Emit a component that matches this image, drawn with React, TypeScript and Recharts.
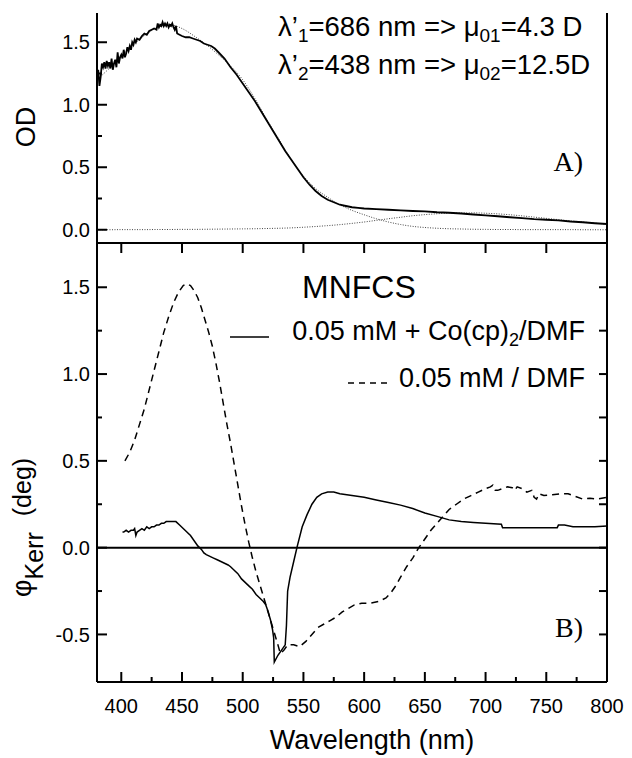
import { LineChart, Line, XAxis, YAxis, ReferenceLine, Legend } from "recharts";

const FONT = '"Liberation Sans", Arial, sans-serif';
const SERIF = '"Liberation Serif", "Times New Roman", serif';

// A) absorption spectrum and the two fitted bands
const odWavelength = [
  380, 381, 382, 383, 384, 385, 386, 387, 388, 389, 390, 391, 392, 393, 394, 395, 396, 397, 398, 399,
  400, 401, 402, 403, 404, 405, 406, 407, 408, 409, 410, 411, 412, 413, 415, 417, 419, 421, 423, 425,
  427, 429, 430, 431, 432, 433, 434, 435, 436, 437, 438, 439, 440, 441, 442, 443, 444, 445, 446, 448,
  450, 453, 456, 459, 462, 465, 468, 471, 474, 477, 480, 485, 490, 495, 500, 505, 510, 515, 520, 525,
  530, 535, 540, 545, 550, 555, 560, 565, 570, 575, 580, 585, 590, 595, 600, 610, 620, 630, 640, 650,
  660, 670, 680, 690, 700, 710, 720, 730, 740, 750, 760, 770, 780, 790, 800,
];
const odMeasured = [
  1.21, 1.28, 1.15, 1.22, 1.33, 1.3, 1.34, 1.29, 1.35, 1.31, 1.34, 1.29, 1.37, 1.28, 1.33, 1.36, 1.3, 1.42, 1.33, 1.38,
  1.4, 1.37, 1.44, 1.38, 1.41, 1.46, 1.43, 1.47, 1.44, 1.5, 1.48, 1.52, 1.5, 1.53, 1.52, 1.55, 1.57, 1.56, 1.59, 1.6,
  1.61, 1.6, 1.65, 1.62, 1.64, 1.63, 1.66, 1.63, 1.65, 1.63, 1.65, 1.62, 1.64, 1.63, 1.65, 1.62, 1.6, 1.63, 1.57, 1.56,
  1.55, 1.54, 1.54, 1.53, 1.52, 1.51, 1.49, 1.48, 1.47, 1.45, 1.42, 1.37, 1.3, 1.24, 1.17, 1.1, 1.03, 0.95, 0.87, 0.79,
  0.71, 0.63, 0.56, 0.49, 0.42, 0.36, 0.31, 0.27, 0.24, 0.22, 0.2, 0.19, 0.18, 0.175, 0.17, 0.165, 0.16, 0.155, 0.15, 0.147,
  0.14, 0.136, 0.13, 0.122, 0.115, 0.108, 0.1, 0.093, 0.085, 0.08, 0.075, 0.066, 0.06, 0.052, 0.046,
];
const fitWavelength = [
  380, 390, 400, 410, 420, 430, 440, 450, 460, 470, 480, 490, 500, 510, 520, 530, 540, 550, 560, 570, 580, 590,
  600, 610, 620, 630, 640, 650, 660, 670, 680, 690, 700, 710, 720, 730, 740, 750, 760, 770, 780, 790, 800,
];
const fitBand438 = [
  1.2, 1.29, 1.39, 1.48, 1.56, 1.62, 1.64, 1.61, 1.55, 1.48, 1.4, 1.31, 1.2, 1.05, 0.88, 0.72, 0.56, 0.43, 0.33, 0.26, 0.2, 0.155,
  0.12, 0.088, 0.062, 0.042, 0.027, 0.018, 0.012, 0.008, 0.006, 0.004, 0.003, 0.002, 0.002, 0.001, 0.001, 0.001, 0.001, 0.001, 0, 0, 0,
];
const fitBand686 = [
  0, 0, 0.001, 0.001, 0.001, 0.002, 0.002, 0.003, 0.003, 0.004, 0.005, 0.006, 0.007, 0.008, 0.01, 0.012, 0.015, 0.02, 0.026, 0.033, 0.041, 0.051,
  0.062, 0.075, 0.088, 0.1, 0.112, 0.121, 0.128, 0.133, 0.135, 0.135, 0.132, 0.127, 0.12, 0.111, 0.101, 0.091, 0.081, 0.071, 0.062, 0.053, 0.045,
];
const odTicks = [0, 0.25, 0.5, 0.75, 1, 1.25, 1.5];

// B) Kerr rotation, MNFCS
const coWavelength = [
  401, 402, 404, 406, 408, 410, 411, 412, 413, 415, 417, 419, 421, 423, 425, 427, 429, 431, 433, 435,
  437, 440, 443, 445, 448, 451, 454, 457, 460, 463, 466, 468, 470, 473, 476, 479, 482, 485, 488, 490,
  493, 496, 499, 502, 505, 508, 511, 514, 517, 519, 521, 523, 524.5, 525.5, 526, 529, 532, 535, 536, 537,
  539, 542, 545, 549, 553, 557, 561, 565, 570, 575, 580, 590, 600, 610, 620, 630, 640, 650, 660, 670,
  680, 690, 700, 713, 714, 740, 759, 760, 765, 772, 780, 790, 800,
];
const coKerr = [
  0.09, 0.09, 0.1, 0.09, 0.1, 0.1, 0.11, 0.07, 0.09, 0.1, 0.11, 0.1, 0.12, 0.11, 0.12, 0.12, 0.13, 0.13, 0.14, 0.14,
  0.15, 0.15, 0.15, 0.15, 0.13, 0.11, 0.09, 0.07, 0.04, 0.01, -0.01, -0.03, -0.04, -0.05, -0.06, -0.07, -0.08, -0.09, -0.1, -0.11,
  -0.13, -0.15, -0.18, -0.2, -0.22, -0.24, -0.27, -0.29, -0.31, -0.33, -0.37, -0.42, -0.47, -0.52, -0.66, -0.62, -0.59, -0.56, -0.45, -0.25,
  -0.17, -0.08, 0.01, 0.12, 0.19, 0.25, 0.29, 0.31, 0.32, 0.32, 0.31, 0.3, 0.29, 0.275, 0.26, 0.245, 0.225, 0.2, 0.18, 0.16,
  0.15, 0.145, 0.14, 0.135, 0.115, 0.115, 0.115, 0.13, 0.13, 0.12, 0.12, 0.12, 0.125,
];
const dmfWavelength = [
  403, 407, 411, 415, 419, 423, 427, 431, 435, 439, 443, 447, 451, 454, 457, 460, 463, 466, 469, 472,
  475, 478, 481, 484, 487, 490, 493, 496, 499, 502, 505, 508, 511, 514, 517, 520, 523, 526, 529, 531,
  534, 537, 542, 547, 552, 557, 562, 567, 572, 577, 582, 587, 592, 598, 605, 612, 618, 622, 626, 630,
  635, 640, 645, 650, 655, 660, 665, 670, 676, 682, 688, 694, 700, 704, 706, 708, 710, 714, 718, 722,
  724, 726, 730, 734, 738, 740, 742, 744, 748, 755, 762, 768, 774, 780, 786, 792, 800,
];
const dmfKerr = [
  0.5, 0.55, 0.62, 0.71, 0.8, 0.91, 1.02, 1.13, 1.24, 1.33, 1.41, 1.47, 1.51, 1.52, 1.51, 1.48, 1.44, 1.38, 1.31, 1.24,
  1.16, 1.06, 0.95, 0.83, 0.71, 0.6, 0.48, 0.36, 0.24, 0.13, 0.03, -0.06, -0.14, -0.21, -0.28, -0.35, -0.42, -0.49, -0.56, -0.61,
  -0.59, -0.56, -0.56, -0.57, -0.54, -0.5, -0.46, -0.44, -0.42, -0.4, -0.37, -0.35, -0.33, -0.32, -0.32, -0.31, -0.29, -0.26, -0.22, -0.17,
  -0.11, -0.06, 0, 0.05, 0.1, 0.14, 0.18, 0.22, 0.25, 0.28, 0.3, 0.32, 0.34, 0.35, 0.36, 0.33, 0.33, 0.34, 0.35, 0.345,
  0.33, 0.35, 0.34, 0.32, 0.33, 0.29, 0.28, 0.31, 0.3, 0.305, 0.31, 0.31, 0.295, 0.28, 0.285, 0.28, 0.29,
];
const kerrTicks = [-0.5, -0.25, 0, 0.25, 0.5, 0.75, 1, 1.25, 1.5];
const wavelengthTicks = [400, 425, 450, 475, 500, 525, 550, 575, 600, 625, 650, 675, 700, 725, 750, 775, 800];

const zip = (xs: number[], ys: number[]) => xs.map((x, i) => ({ x, y: ys[i] }));
const odData = zip(odWavelength, odMeasured);
const band438Data = zip(fitWavelength, fitBand438);
const band686Data = zip(fitWavelength, fitBand686);
const coData = zip(coWavelength, coKerr);
const dmfData = zip(dmfWavelength, dmfKerr);

const PLOT_W = 510;
const B_PLOT_H = 439;

function LeftTick({ x, y, payload, right }: any) {
  const major = Math.abs(payload.value % 0.5) < 1e-9;
  return (
    <g>
      <line x1={x} y1={y} x2={x + (major ? 10 : 5)} y2={y} stroke="#000" strokeWidth={2} />
      {right && <line x1={x + PLOT_W} y1={y} x2={x + PLOT_W - 8} y2={y} stroke="#000" strokeWidth={2} />}
      {major && (
        <text x={x - 7} y={y} dy="0.36em" textAnchor="end" fontSize={20} fontFamily={FONT} fill="#000">
          {payload.value.toFixed(1)}
        </text>
      )}
    </g>
  );
}

function WavelengthTick({ x, y, payload }: any) {
  const major = payload.value % 50 === 0;
  return (
    <g>
      <line x1={x} y1={y} x2={x} y2={y - (major ? 10 : 5)} stroke="#000" strokeWidth={2} />
      {major && <line x1={x} y1={y - B_PLOT_H} x2={x} y2={y - B_PLOT_H + 10} stroke="#000" strokeWidth={2} />}
      {major && (
        <text x={x} y={y + 31} textAnchor="middle" fontSize={20} fontFamily={FONT} fill="#000">
          {payload.value}
        </text>
      )}
    </g>
  );
}

function KerrLegend() {
  return (
    <svg width={632} height={170} style={{ overflow: "visible" }}>
      <text x={302} y={63} fontSize={32} fontFamily={FONT}>MNFCS</text>
      <line x1={230} y1={102} x2={269} y2={102} stroke="#000" strokeWidth={1.5} />
      <text x={585} y={105} textAnchor="end" fontSize={27} fontFamily={FONT}>
        0.05 mM + Co(cp)<tspan fontSize={18} dy={6}>2</tspan>
        <tspan dy={-6}>/DMF</tspan>
      </text>
      <line x1={348} y1={148} x2={388} y2={148} stroke="#000" strokeWidth={1.5} strokeDasharray="6 5" />
      <text x={585} y={152} textAnchor="end" fontSize={27} fontFamily={FONT}>0.05 mM / DMF</text>
    </svg>
  );
}

export default function App() {
  return (
    <div style={{ position: "absolute", left: 0, top: 0, width: 632, height: 758, background: "#fff" }}>
      <div style={{ position: "absolute", left: 0, top: 0 }}>
        <LineChart width={632} height={245} margin={{ top: 13, right: 25, bottom: 2, left: 0 }}>
          <XAxis type="number" dataKey="x" domain={[380, 800]} allowDataOverflow hide />
          <YAxis
            type="number"
            domain={[-0.106, 1.734]}
            allowDataOverflow
            ticks={odTicks}
            interval={0}
            width={97}
            tickSize={0}
            tickMargin={0}
            tickLine={false}
            axisLine={{ stroke: "#000", strokeWidth: 2 }}
            tick={(p: any) => <LeftTick {...p} />}
          />
          <ReferenceLine x={800} stroke="#000" strokeWidth={2} />
          <Line data={band438Data} dataKey="y" type="monotone" stroke="#444" strokeWidth={1} strokeDasharray="1 1.5" dot={false} isAnimationActive={false} />
          <Line data={band686Data} dataKey="y" type="monotone" stroke="#444" strokeWidth={1} strokeDasharray="1 1.5" dot={false} isAnimationActive={false} />
          <Line data={odData} dataKey="y" type="linear" stroke="#000" strokeWidth={1.8} dot={false} isAnimationActive={false} />
          <text x={278} y={36} fontSize={27.5} fontFamily={FONT}>
            λ’<tspan fontSize={19} dy={6}>1</tspan>
            <tspan dy={-6}>=686 nm =&gt; μ</tspan>
            <tspan fontSize={19} dy={6}>01</tspan>
            <tspan dy={-6}>=4.3 D</tspan>
          </text>
          <text x={278} y={74} fontSize={27.5} fontFamily={FONT}>
            λ’<tspan fontSize={19} dy={6}>2</tspan>
            <tspan dy={-6}>=438 nm =&gt; μ</tspan>
            <tspan fontSize={19} dy={6}>02</tspan>
            <tspan dy={-6}>=12.5D</tspan>
          </text>
          <text x={583} y={171} textAnchor="end" fontSize={28} fontFamily={SERIF}>A)</text>
          <text transform="rotate(-90)" x={-127} y={35} textAnchor="middle" fontSize={27} fontFamily={FONT}>OD</text>
        </LineChart>
      </div>
      <div style={{ position: "absolute", left: 0, top: 235 }}>
        <LineChart width={632} height={523} margin={{ top: 8, right: 25, bottom: 0, left: 0 }}>
          <XAxis
            type="number"
            dataKey="x"
            domain={[380, 800]}
            allowDataOverflow
            ticks={wavelengthTicks}
            interval={0}
            height={76}
            tickSize={0}
            tickMargin={0}
            tickLine={false}
            axisLine={{ stroke: "#000", strokeWidth: 2 }}
            tick={(p: any) => <WavelengthTick {...p} />}
            label={{ value: "Wavelength (nm)", position: "insideBottom", offset: 9, dx: 20, fontSize: 27, fontFamily: FONT, fill: "#000" }}
          />
          <YAxis
            type="number"
            domain={[-0.774, 1.755]}
            allowDataOverflow
            ticks={kerrTicks}
            interval={0}
            width={97}
            tickSize={0}
            tickMargin={0}
            tickLine={false}
            axisLine={{ stroke: "#000", strokeWidth: 2 }}
            tick={(p: any) => <LeftTick {...p} right />}
          />
          <ReferenceLine y={1.755} stroke="#000" strokeWidth={2} />
          <ReferenceLine x={800} stroke="#000" strokeWidth={2} />
          <ReferenceLine y={0} stroke="#000" strokeWidth={2} />
          <Legend layout="horizontal" verticalAlign="middle" align="center" content={() => <KerrLegend />} wrapperStyle={{ position: "absolute", left: 0, top: 0, width: 632, height: 170 }} />
          <Line data={dmfData} dataKey="y" type="linear" stroke="#000" strokeWidth={1.5} strokeDasharray="7 5" dot={false} isAnimationActive={false} />
          <Line data={coData} dataKey="y" type="linear" stroke="#000" strokeWidth={1.5} dot={false} isAnimationActive={false} />
          <text x={583} y={402} textAnchor="end" fontSize={28} fontFamily={SERIF}>B)</text>
          <text transform="rotate(-90)" x={-362} y={31} fontSize={27} fontFamily={FONT}>
            φ<tspan fontSize={25} dy={12}>Kerr</tspan>
            <tspan fontSize={25} dy={-12} dx={16}>(deg)</tspan>
          </text>
        </LineChart>
      </div>
    </div>
  );
}
